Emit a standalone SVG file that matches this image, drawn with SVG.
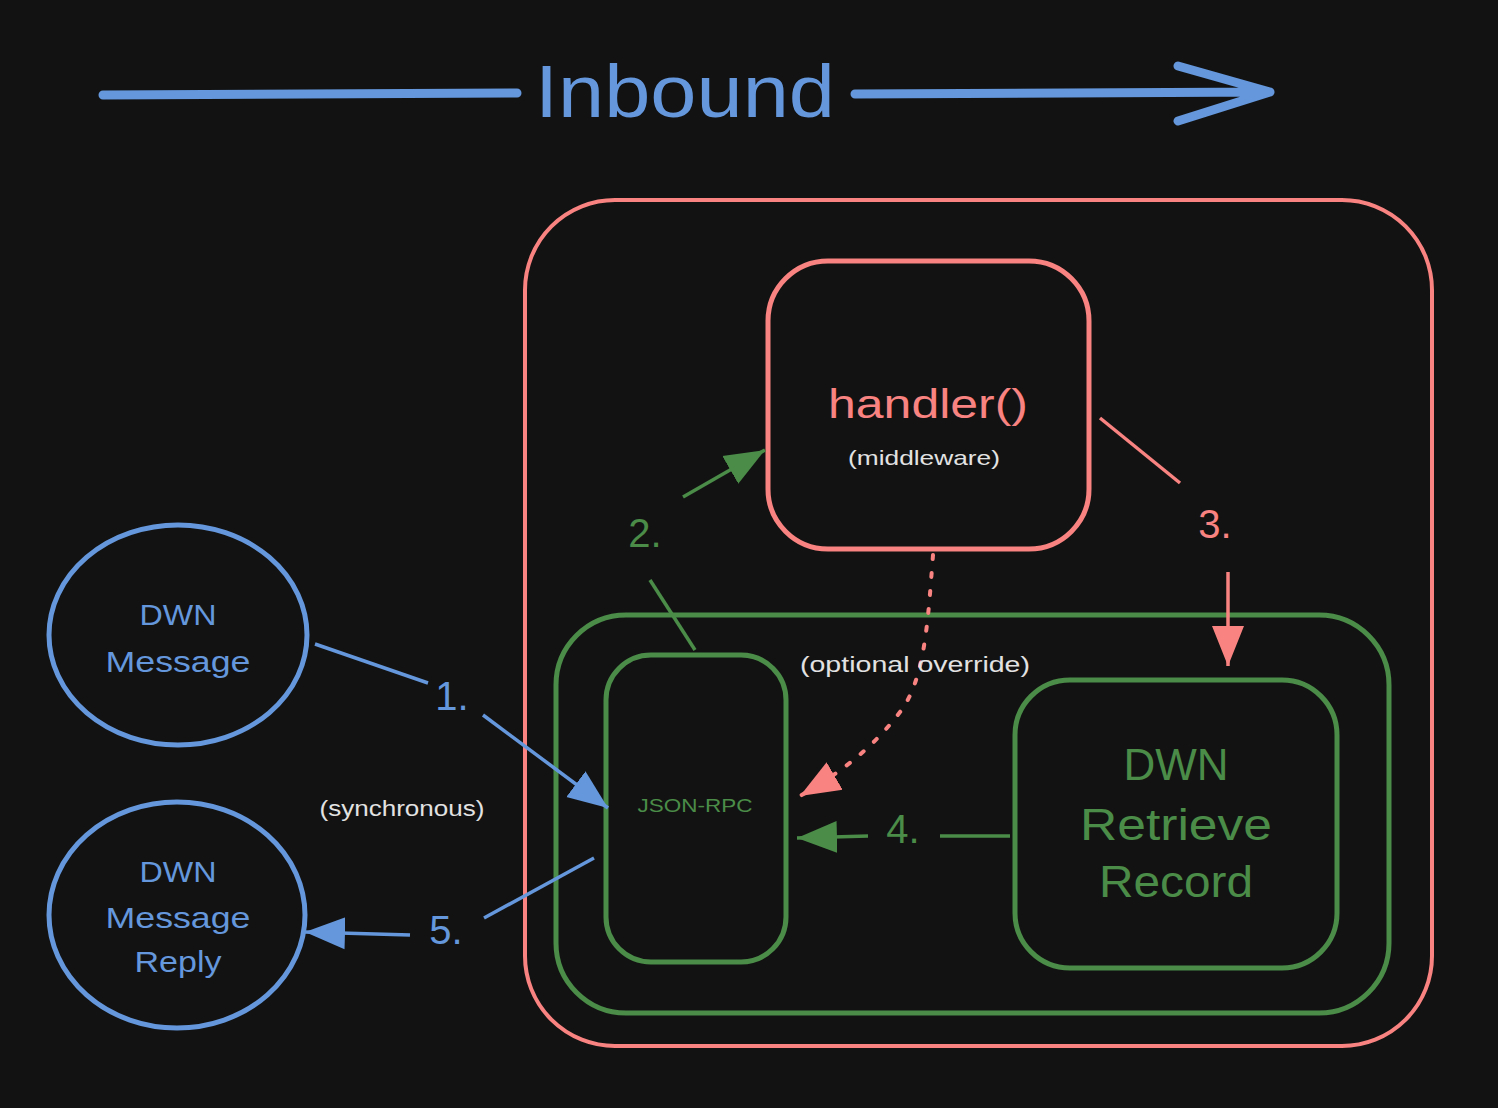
<svg xmlns="http://www.w3.org/2000/svg" width="1498" height="1108" viewBox="0 0 1498 1108">
<style>
.blue{stroke:#6497dc;fill:none}
.red{stroke:#f88380;fill:none}
.green{stroke:#4a8c48;fill:none}
.t{font-family:"Liberation Sans",Lato,sans-serif;text-anchor:middle}
.tb{fill:#6497dc}
.tr{fill:#f88380}
.tg{fill:#4a8c48}
.tw{fill:#e2e2e2}
</style>
<defs>
<marker id="ab" markerUnits="userSpaceOnUse" markerWidth="44" markerHeight="40" refX="40" refY="18" orient="auto"><path d="M0,2 L40,18 L0,34 Z" fill="#6497dc"/></marker>
<marker id="ar" markerUnits="userSpaceOnUse" markerWidth="44" markerHeight="40" refX="40" refY="18" orient="auto"><path d="M0,2 L40,18 L0,34 Z" fill="#f88380"/></marker>
<marker id="ag" markerUnits="userSpaceOnUse" markerWidth="44" markerHeight="40" refX="40" refY="18" orient="auto"><path d="M0,2 L40,18 L0,34 Z" fill="#4a8c48"/></marker>
</defs>
<rect width="1498" height="1108" fill="#121212"/>

<g id="title">
<path class="blue" d="M103,95 L517,93" stroke-width="9" stroke-linecap="round"/>
<path class="blue" d="M855,94 L1270,92 M1178,66 L1270,92 L1178,121" stroke-width="9" stroke-linecap="round" stroke-linejoin="round"/>
<text class="t tb" x="685" y="117" font-size="74" textLength="300" lengthAdjust="spacingAndGlyphs">Inbound</text>
</g>

<g id="outer-red">
<rect class="red" x="525" y="200" width="907" height="846" rx="90" stroke-width="4"/>
</g>

<g id="handler">
<rect class="red" x="768" y="261" width="321" height="288" rx="60" stroke-width="5"/>
<text class="t tr" x="928" y="418" font-size="40" textLength="200" lengthAdjust="spacingAndGlyphs">handler()</text>
<text class="t tw" x="924" y="465" font-size="21" textLength="152" lengthAdjust="spacingAndGlyphs">(middleware)</text>
</g>

<g id="green-outer">
<rect class="green" x="556" y="615" width="833" height="398" rx="70" stroke-width="5"/>
</g>

<g id="jsonrpc">
<rect class="green" x="606" y="655" width="180" height="307" rx="45" stroke-width="5"/>
<text class="t tg" x="695" y="812" font-size="19" textLength="115" lengthAdjust="spacingAndGlyphs">JSON-RPC</text>
</g>

<g id="retrieve">
<rect class="green" x="1015" y="680" width="322" height="288" rx="55" stroke-width="5"/>
<text class="t tg" x="1176" y="780" font-size="44">DWN</text>
<text class="t tg" x="1176" y="840" font-size="44" textLength="192" lengthAdjust="spacingAndGlyphs">Retrieve</text>
<text class="t tg" x="1176" y="897" font-size="44" textLength="154" lengthAdjust="spacingAndGlyphs">Record</text>
</g>

<g id="dwn-message">
<ellipse class="blue" cx="178" cy="635" rx="129" ry="110" stroke-width="5"/>
<text class="t tb" x="178" y="625" font-size="30" textLength="77" lengthAdjust="spacingAndGlyphs">DWN</text>
<text class="t tb" x="178" y="672" font-size="30" textLength="145" lengthAdjust="spacingAndGlyphs">Message</text>
</g>

<g id="dwn-reply">
<ellipse class="blue" cx="177" cy="915" rx="128" ry="113" stroke-width="5"/>
<text class="t tb" x="178" y="882" font-size="30" textLength="77" lengthAdjust="spacingAndGlyphs">DWN</text>
<text class="t tb" x="178" y="928" font-size="30" textLength="145" lengthAdjust="spacingAndGlyphs">Message</text>
<text class="t tb" x="178" y="972" font-size="30" textLength="87" lengthAdjust="spacingAndGlyphs">Reply</text>
</g>

<g id="connectors">
<path class="blue" d="M315,644 L428,683" stroke-width="3.5"/>
<path class="blue" d="M483,715 L608,808" stroke-width="3.5" marker-end="url(#ab)"/>
<path class="blue" d="M594,858 L484,918" stroke-width="3.5"/>
<path class="blue" d="M410,935 L305,932" stroke-width="3.5" marker-end="url(#ab)"/>
<path class="green" d="M695,650 L650,580" stroke-width="3.5"/>
<path class="green" d="M683,497 L765,450" stroke-width="3.5" marker-end="url(#ag)"/>
<path class="red" d="M1100,418 L1180,483" stroke-width="3.5"/>
<path class="red" d="M1228,572 L1228,666" stroke-width="3.5" marker-end="url(#ar)"/>
<path class="green" d="M1010,836 L940,836" stroke-width="3.5"/>
<path class="green" d="M868,836 L797,838" stroke-width="3.5" marker-end="url(#ag)"/>
<path class="red" d="M933,555 C928,620 925,680 900,712 C875,745 845,770 800,796" stroke-width="4" stroke-dasharray="4,14" stroke-linecap="round" marker-end="url(#ar)"/>
<text class="t tb" x="452" y="710" font-size="40">1.</text>
<text class="t tg" x="645" y="547" font-size="40">2.</text>
<text class="t tr" x="1215" y="538" font-size="40">3.</text>
<text class="t tg" x="903" y="843" font-size="40">4.</text>
<text class="t tb" x="446" y="944" font-size="40">5.</text>
<text class="t tw" x="402" y="816" font-size="22" textLength="165" lengthAdjust="spacingAndGlyphs">(synchronous)</text>
<text class="t tw" x="915" y="672" font-size="22" textLength="230" lengthAdjust="spacingAndGlyphs">(optional override)</text>
</g>
</svg>
